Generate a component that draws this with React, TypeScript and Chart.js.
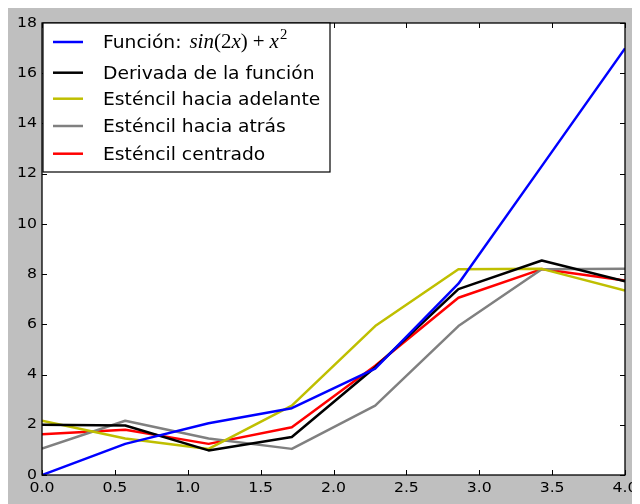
import { useEffect, useRef } from "react";
import { Chart, registerables } from "chart.js";

Chart.register(...registerables);

// Sample points (8 nodes on [0, 4])
const xs = [0, 0.571, 1.143, 1.714, 2.286, 2.857, 3.429, 4.0];

const funcion = [0, 1.24, 2.06, 2.66, 4.24, 7.62, 12.3, 16.99];
const derivada = [2.0, 1.97, 0.98, 1.51, 4.29, 7.4, 8.54, 7.71];
const adelante = [2.16, 1.45, 1.04, 2.76, 5.93, 8.19, 8.21, 7.35];
const atras = [1.05, 2.16, 1.45, 1.04, 2.76, 5.93, 8.19, 8.21];
const centrado = [1.62, 1.8, 1.24, 1.9, 4.35, 7.06, 8.2, 7.75];

const seriesLabels = [
  "Función: ",
  "Derivada de la función",
  "Esténcil hacia adelante",
  "Esténcil hacia atrás",
  "Esténcil centrado",
];
const seriesColors = ["#0000ff", "#000000", "#bfbf00", "#808080", "#ff0000"];
const seriesValues = [funcion, derivada, adelante, atras, centrado];

const xTicks = [0, 0.5, 1, 1.5, 2, 2.5, 3, 3.5, 4];
const xTickLabels = ["0.0", "0.5", "1.0", "1.5", "2.0", "2.5", "3.0", "3.5", "4.0"];
const yTicks = [0, 2, 4, 6, 8, 10, 12, 14, 16, 18];
const yTickLabels = ["0", "2", "4", "6", "8", "10", "12", "14", "16", "18"];

const SANS = "'DejaVu Sans', sans-serif";
const SERIF = "'Liberation Serif', 'DejaVu Serif', serif";

// Text is drawn slightly widened horizontally
const STRETCH_TICK = 1.12;
const STRETCH_LEGEND = 1.1;

function stretchedText(
  ctx: CanvasRenderingContext2D,
  text: string,
  x: number,
  y: number,
  sx: number
) {
  ctx.save();
  ctx.translate(x, y);
  ctx.scale(sx, 1);
  ctx.fillText(text, 0, 0);
  ctx.restore();
}

// Draws "sin(2x) + x²" in math style starting at (x, baseline); returns end x
function drawMath(ctx: CanvasRenderingContext2D, x: number, y: number, sx: number) {
  const size = 20;
  const parts: [string, boolean, boolean, number][] = [
    ["sin", true, false, 0],
    ["(2", false, false, 0],
    ["x", true, false, 0],
    [")", false, false, 5],
    ["+", false, false, 5],
    ["x", true, false, 0],
    ["2", false, true, 0],
  ];
  let cx = x;
  ctx.textAlign = "left";
  for (const [t, ital, sup, gap] of parts) {
    const fs = sup ? 14 : size;
    ctx.font = `${ital ? "italic " : ""}${fs}px ${SERIF}`;
    const ox = sup ? 1 : 0;
    stretchedText(ctx, t, cx + ox, sup ? y - 9 : y, sx);
    cx += (ctx.measureText(t).width + ox) * sx + gap;
  }
  return cx;
}

const framePlugin = {
  id: "frameAndLegend",
  beforeDraw(chart: any) {
    const { ctx, chartArea: a, width, height } = chart;
    ctx.save();
    ctx.fillStyle = "#bfbfbf";
    ctx.fillRect(0, 0, width, height);
    ctx.fillStyle = "#ffffff";
    ctx.fillRect(a.left, a.top, a.right - a.left, a.bottom - a.top);
    ctx.restore();
  },
  afterDraw(chart: any) {
    const { ctx, chartArea: a } = chart;
    const sX = chart.scales.x;
    const sY = chart.scales.y;
    ctx.save();

    // inward tick marks on all four sides
    ctx.strokeStyle = "#000000";
    ctx.lineWidth = 1;
    const tl = 5;
    ctx.beginPath();
    for (const v of xTicks) {
      const px = Math.round(sX.getPixelForValue(v)) + 0.5;
      ctx.moveTo(px, a.bottom);
      ctx.lineTo(px, a.bottom - tl);
      ctx.moveTo(px, a.top);
      ctx.lineTo(px, a.top + tl);
    }
    for (const v of yTicks) {
      const py = Math.round(sY.getPixelForValue(v)) + 0.5;
      ctx.moveTo(a.left, py);
      ctx.lineTo(a.left + tl, py);
      ctx.moveTo(a.right, py);
      ctx.lineTo(a.right - tl, py);
    }
    ctx.stroke();
    ctx.lineWidth = 1.3;
    ctx.strokeRect(a.left, a.top, a.right - a.left, a.bottom - a.top);

    // tick labels
    ctx.fillStyle = "#000000";
    ctx.font = `14px ${SANS}`;
    ctx.textBaseline = "top";
    xTicks.forEach((v, i) => {
      const px = sX.getPixelForValue(v);
      const w = ctx.measureText(xTickLabels[i]).width * STRETCH_TICK;
      ctx.textAlign = "left";
      stretchedText(ctx, xTickLabels[i], px - w / 2, a.bottom + 6, STRETCH_TICK);
    });
    ctx.textBaseline = "middle";
    yTicks.forEach((v, i) => {
      const py = sY.getPixelForValue(v);
      const w = ctx.measureText(yTickLabels[i]).width * STRETCH_TICK;
      ctx.textAlign = "left";
      stretchedText(ctx, yTickLabels[i], a.left - 5 - w, py, STRETCH_TICK);
    });

    // Legend box
    const bx = a.left + 1;
    const by = a.top;
    const bw = 287;
    const bh = 149;
    ctx.fillStyle = "#ffffff";
    ctx.fillRect(bx, by, bw, bh);
    ctx.lineWidth = 1.2;
    ctx.strokeStyle = "#000000";
    ctx.strokeRect(bx, by, bw, bh);

    const rows = [19, 49.7, 75.7, 103, 130.7];
    ctx.lineWidth = 2.5;
    ctx.textBaseline = "alphabetic";
    ctx.textAlign = "left";
    rows.forEach((ry, i) => {
      const yy = by + ry;
      ctx.strokeStyle = seriesColors[i];
      ctx.beginPath();
      ctx.moveTo(bx + 10, yy);
      ctx.lineTo(bx + 40, yy);
      ctx.stroke();
      ctx.fillStyle = "#000000";
      ctx.font = `17px ${SANS}`;
      const base = yy + 6;
      stretchedText(ctx, seriesLabels[i], bx + 60, base, STRETCH_LEGEND);
      if (i === 0) {
        const w = ctx.measureText(seriesLabels[i]).width * STRETCH_LEGEND;
        drawMath(ctx, bx + 60 + w + 2, base, 1.05);
      }
    });
    ctx.restore();
  },
};

export default function App() {
  const ref = useRef<HTMLCanvasElement>(null);
  useEffect(() => {
    if (!ref.current) return;
    const chart = new Chart(ref.current, {
      type: "line",
      data: {
        datasets: seriesValues.map((vals, i) => ({
          label: seriesLabels[i],
          data: vals.map((v, j) => ({ x: xs[j], y: v })),
          borderColor: seriesColors[i],
          backgroundColor: seriesColors[i],
          borderWidth: 2.5,
          pointRadius: 0,
          tension: 0,
          fill: false,
          borderJoinStyle: "round" as const,
        })),
      },
      options: {
        animation: false,
        responsive: false,
        devicePixelRatio: 1,
        layout: { padding: { top: 15, right: 15, left: 0, bottom: 0 } },
        plugins: { legend: { display: false }, tooltip: { enabled: false } },
        scales: {
          x: {
            type: "linear",
            min: 0,
            max: 4,
            grid: { display: false, drawTicks: false },
            border: { display: false },
            ticks: { display: false },
            afterFit: (s: any) => {
              s.height = 29;
            },
          },
          y: {
            type: "linear",
            min: 0,
            max: 18,
            grid: { display: false, drawTicks: false },
            border: { display: false },
            ticks: { display: false },
            afterFit: (s: any) => {
              s.width = 34;
            },
          },
        },
      },
      plugins: [framePlugin],
    });
    return () => chart.destroy();
  }, []);
  return <canvas ref={ref} width={632} height={496} style={{ display: "block" }} />;
}
